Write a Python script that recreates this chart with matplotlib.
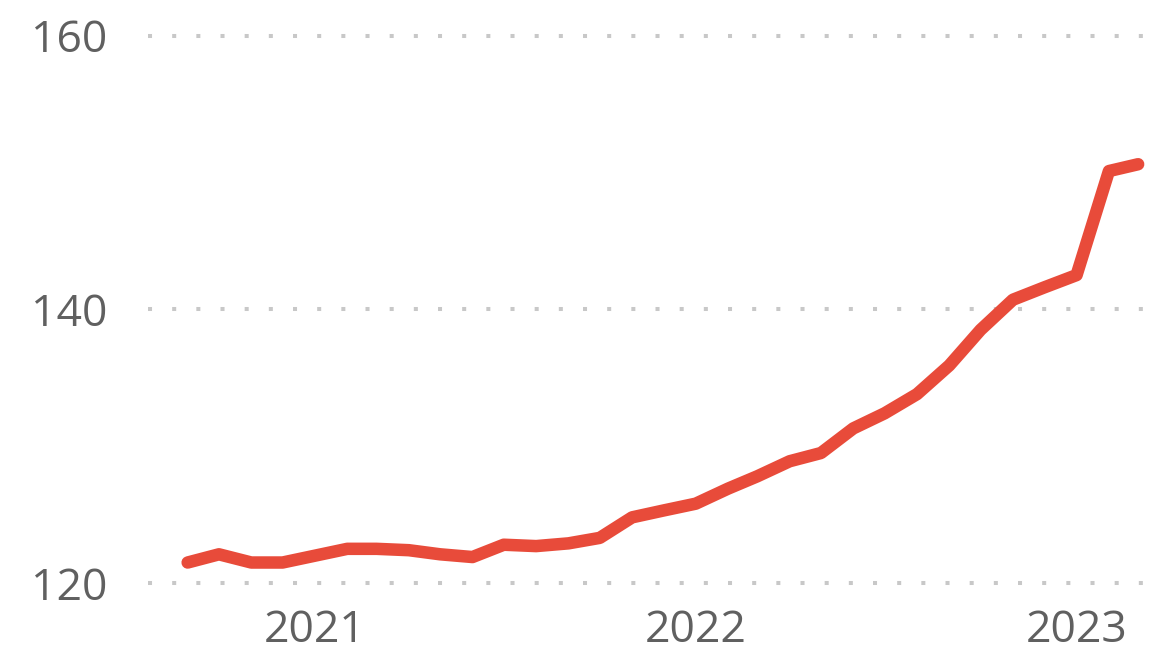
import pandas as pd
import matplotlib.pyplot as plt

# monthly index values, Sep 2020 - Mar 2023
months = pd.date_range("2020-09-01", periods=31, freq="MS")
values = [121.5, 122.1, 121.5, 121.5, 122.0, 122.5, 122.5, 122.4, 122.1, 121.9,
          122.8, 122.7, 122.9, 123.3, 124.8, 125.3, 125.8, 126.9, 127.8, 128.9,
          129.5, 131.3, 132.4, 133.8, 135.9, 138.5, 140.7, 141.6, 142.5, 150.1,
          150.6]
y_ticks = [120, 140, 160]
x_ticks = ["2021-01-01", "2022-01-01", "2023-01-01"]
x_labels = ["2021", "2022", "2023"]

plt.rcParams["font.family"] = ["Open Sans", "DejaVu Sans"]

fig = plt.figure(figsize=(11.59, 6.59), dpi=100)
ax = fig.add_axes([0.1277, 0.0895, 0.8723, 0.880])

ax.plot(months, values, color="#E84B3A", linewidth=9,
        solid_capstyle="round", solid_joinstyle="round", zorder=3)

ax.set_ylim(118.76, 161.13)
ax.set_xlim(months[0] - pd.Timedelta(days=38), months[-1] + pd.Timedelta(days=20))

ax.set_yticks(y_ticks)
ax.set_xticks(pd.to_datetime(x_ticks))
ax.set_xticklabels(x_labels)

ax.grid(axis="y", color="#c8c8c8", linewidth=2.9, linestyle=(0, (1, 5)),
        dash_capstyle="butt")
ax.grid(axis="x", visible=False)
for s in ax.spines.values():
    s.set_visible(False)

ax.tick_params(axis="both", length=0, labelsize=32, labelcolor="#606060")
ax.tick_params(axis="y", pad=29)
ax.tick_params(axis="x", pad=6)

fig.savefig("out.png", dpi=100)
